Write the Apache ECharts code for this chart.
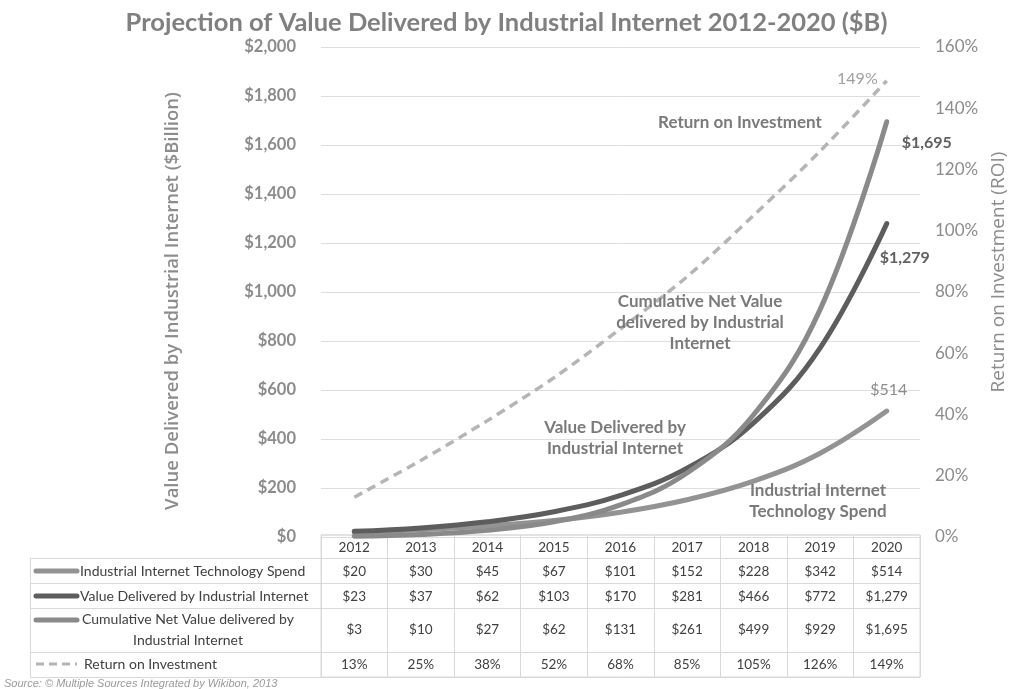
<!DOCTYPE html>
<html><head><meta charset="utf-8">
<script src="https://cdn.jsdelivr.net/npm/echarts@6/dist/echarts.min.js"></script>
<style>html,body{margin:0;padding:0;background:#fff}#c{width:1013px;height:689px}</style>
</head><body><div id="c"></div>
<script>
const categories = ['2012','2013','2014','2015','2016','2017','2018','2019','2020'];
const techSpend = [20,30,45,67,101,152,228,342,514];
const valueDelivered = [23,37,62,103,170,281,466,772,1279];
const cumulativeNet = [3,10,27,62,131,261,499,929,1695];
const roi = [13,25,38,52,68,85,105,126,149];
const leftTicks = {min:0,max:2000,interval:200};
const rightTicks = {min:0,max:160,interval:20};
const rowNames = ['Industrial Internet Technology Spend','Value Delivered by Industrial Internet','Cumulative Net Value delivered by\nIndustrial Internet','Return on Investment'];

const FONT = 'Lato, "Open Sans", sans-serif';
const OS = '"Open Sans", sans-serif';
const fmt$ = v => '$' + Number(v).toLocaleString('en-US');
const C_SPEND = '#939393', C_VALUE = '#5d5d5d', C_CUM = '#8a8a8a', C_ROI = '#b5b5b5';

const chart = echarts.init(document.getElementById('c'), null, {renderer:'canvas'});

function tableAxis(vals, f, offset){
  return {type:'category', gridIndex:0, position:'bottom', offset:offset, data:categories,
    axisLine:{show:false}, axisTick:{show:false}, splitLine:{show:false},
    axisLabel:{margin:0, fontFamily:FONT, fontSize:13.5, color:'#404040', lineHeight:14,
      formatter:(v,i)=> f(vals[i])}};
}

const G = {L:321, R:920, T:47, B:537};
const rows = [535, 558, 583, 608, 652, 677];
const graphics = [];
// table horizontal lines
graphics.push({type:'line', shape:{x1:G.L,y1:rows[0],x2:G.R,y2:rows[0]}, style:{stroke:'#d9d9d9',lineWidth:1}});
for (let k=1;k<rows.length;k++) graphics.push({type:'line', shape:{x1:30,y1:rows[k]+0.5,x2:G.R,y2:rows[k]+0.5}, style:{stroke:'#d9d9d9',lineWidth:1}});
graphics.push({type:'line', shape:{x1:30.5,y1:rows[1],x2:30.5,y2:rows[5]}, style:{stroke:'#d9d9d9',lineWidth:1}});
// legend keys
const keyY = [571, 596, 620, 664];
const keyCol = [C_SPEND, C_VALUE, C_CUM, C_ROI];
for (let k=0;k<4;k++){
  graphics.push({type:'line', shape:{x1:36,y1:keyY[k],x2:77,y2:keyY[k]},
    style:{stroke:keyCol[k], lineWidth: k===3?3:5, lineCap: k===3?'butt':'round', lineDash: k===3?[8,5]:null}});
}
const LBL = '14px '+FONT;
graphics.push({type:'text', x:80, y:571, style:{text:rowNames[0], font:LBL, fill:'#404040', textVerticalAlign:'middle'}});
graphics.push({type:'text', x:80, y:596, style:{text:rowNames[1], font:LBL, fill:'#404040', textVerticalAlign:'middle'}});
graphics.push({type:'text', x:188, y:630, style:{text:rowNames[2], font:LBL, fill:'#404040', textAlign:'center', textVerticalAlign:'middle', lineHeight:21}});
graphics.push({type:'text', x:84, y:664, style:{text:rowNames[3], font:LBL, fill:'#404040', textVerticalAlign:'middle'}});
// axis names
graphics.push({type:'text', x:173, y:301, rotation:Math.PI/2, style:{text:'Value Delivered by Industrial Internet ($Billion)', font:'600 18.5px '+OS, fill:'#8c8c8c', textAlign:'center', textVerticalAlign:'middle'}});
graphics.push({type:'text', x:999, y:272, rotation:Math.PI/2, style:{text:'Return on Investment (ROI)', font:'19px '+OS, fill:'#8c8c8c', textAlign:'center', textVerticalAlign:'middle'}});
// annotations
const ann = [
  ['Return on Investment', 740, 123],
  ['Cumulative Net Value\ndelivered by Industrial\nInternet', 700, 323],
  ['Value Delivered by\nIndustrial Internet', 615, 438],
  ['Industrial Internet\nTechnology Spend', 818, 501]
];
ann.forEach(a=>graphics.push({type:'text', x:a[1], y:a[2], z:10, style:{text:a[0], font:'bold 17px '+FONT, fill:'#7a7a7a', textAlign:'center', textVerticalAlign:'middle', lineHeight:21}}));
// source
graphics.push({type:'text', x:4, y:684, style:{text:'Source: © Multiple Sources Integrated by Wikibon, 2013', font:'italic 11px "Liberation Sans", Arial, sans-serif', fill:'#9a9a9a', textVerticalAlign:'middle'}});

function endLabel(arr, text, pos, offset, style){
  return arr.map((v,i)=> i===arr.length-1 ? {value:v, label:Object.assign({show:true, formatter:text, position:pos, offset:offset, fontFamily:FONT}, style)} : v);
}
const lineBase = {type:'line', xAxisIndex:0, symbol:'circle', symbolSize:0.01, showSymbol:true, smooth:0.4};

const option = {
  backgroundColor:'#fff',
  animation:false,
  title:{text:'Projection of Value Delivered by Industrial Internet 2012-2020 ($B)', left:'center', top:5,
    textStyle:{fontFamily:FONT, fontSize:25.5, fontWeight:'bold', color:'#808080'}},
  grid:[
    {left:G.L, right:1013-G.R, top:G.T, bottom:689-G.B},
    {left:G.L, right:1013-G.R, top:rows[0], height:rows[5]-rows[0], show:true, borderColor:'#d9d9d9', borderWidth:1}
  ],
  xAxis:[
    {type:'category', gridIndex:0, data:categories, boundaryGap:true, axisLine:{show:false}, axisTick:{show:false}, axisLabel:{show:false}},
    {type:'category', gridIndex:1, data:categories, boundaryGap:true, axisLine:{show:false}, axisTick:{show:false}, axisLabel:{show:false},
      splitLine:{show:true, lineStyle:{color:'#d9d9d9', width:1}}},
    tableAxis(categories, v=>v, 4),
    tableAxis(techSpend, fmt$, 28),
    tableAxis(valueDelivered, fmt$, 53),
    tableAxis(cumulativeNet, fmt$, 86),
    tableAxis(roi, v=>v+'%', 121)
  ],
  yAxis:[
    {type:'value', gridIndex:0, min:leftTicks.min, max:leftTicks.max, interval:leftTicks.interval,
      axisLine:{show:false}, axisTick:{show:false},
      splitLine:{lineStyle:{color:'#dedede', width:1}},
      axisLabel:{margin:25, fontFamily:FONT, fontSize:16.5, fontWeight:'bold', color:'#8c8c8c', formatter:fmt$}},
    {type:'value', gridIndex:0, position:'right', min:rightTicks.min, max:rightTicks.max, interval:rightTicks.interval,
      axisLine:{show:false}, axisTick:{show:false}, splitLine:{show:false},
      axisLabel:{margin:15, fontFamily:FONT, fontSize:17, color:'#8c8c8c', formatter:v=>v+'%'}},
    {type:'value', gridIndex:1, show:false, splitLine:{show:false}}
  ],
  graphic:graphics,
  series:[
    Object.assign({}, lineBase, {name:'Return on Investment', yAxisIndex:1, smooth:0.3,
      itemStyle:{color:C_ROI}, lineStyle:{color:C_ROI, width:3.5, type:[9,6]},
      data:endLabel(roi, '149%', 'left', [-4,-2], {fontSize:16, color:'#a0a0a0'}), z:3}),
    Object.assign({}, lineBase, {name:'Industrial Internet Technology Spend', yAxisIndex:0,
      itemStyle:{color:C_SPEND}, lineStyle:{color:C_SPEND, width:5, cap:'round'},
      data:endLabel(techSpend, '$514', 'top', [2,-8], {fontSize:16, color:'#8c8c8c'}), z:4}),
    Object.assign({}, lineBase, {name:'Value Delivered by Industrial Internet', yAxisIndex:0,
      itemStyle:{color:C_VALUE}, lineStyle:{color:C_VALUE, width:5, cap:'round'},
      data:endLabel(valueDelivered, '$1,279', 'right', [-12,34], {fontSize:16, fontWeight:'bold', color:'#606060'}), z:5}),
    Object.assign({}, lineBase, {name:'Cumulative Net Value delivered by Industrial Internet', yAxisIndex:0,
      itemStyle:{color:C_CUM}, lineStyle:{color:C_CUM, width:5, cap:'round'},
      data:endLabel(cumulativeNet, '$1,695', 'right', [10,21], {fontSize:16, fontWeight:'bold', color:'#606060'}), z:6})
  ]
};
chart.setOption(option);
</script></body></html>
